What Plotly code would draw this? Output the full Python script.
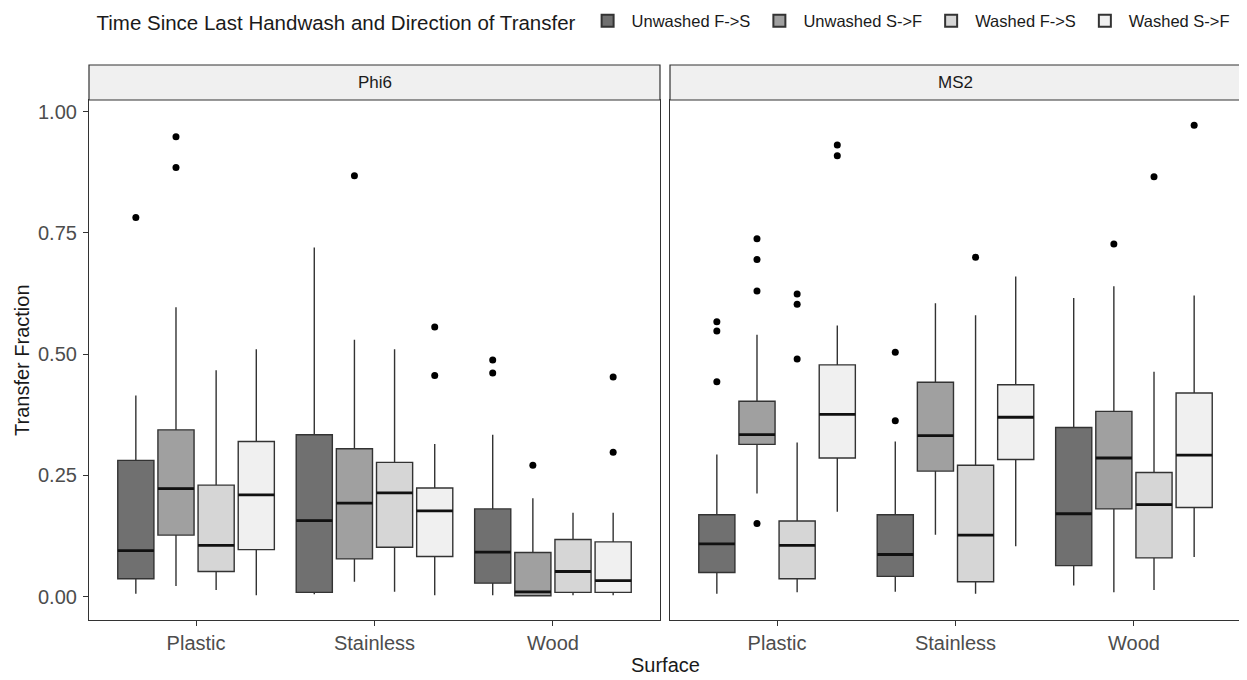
import plotly.graph_objects as go

# ---------------- data ----------------
viruses = ["Phi6", "MS2"]
surfaces = ["Plastic", "Stainless", "Wood"]
groups = ["Unwashed F->S", "Unwashed S->F", "Washed F->S", "Washed S->F"]
fills = ["#707070", "#A0A0A0", "#D6D6D6", "#F0F0F0"]

# rows = groups, columns = surfaces (Plastic, Stainless, Wood)
phi6_lower = [[0.006, 0.005, 0.003], [0.022, 0.031, 0.001], [0.014, 0.010, 0.003], [0.003, 0.003, 0.003]]
phi6_q1 = [[0.037, 0.009, 0.028], [0.127, 0.078, 0.002], [0.052, 0.102, 0.009], [0.097, 0.083, 0.009]]
phi6_median = [[0.095, 0.157, 0.092], [0.223, 0.193, 0.010], [0.106, 0.214, 0.052], [0.210, 0.177, 0.033]]
phi6_q3 = [[0.281, 0.334, 0.181], [0.344, 0.305, 0.091], [0.230, 0.277, 0.118], [0.320, 0.224, 0.113]]
phi6_upper = [[0.415, 0.720, 0.334], [0.597, 0.530, 0.203], [0.467, 0.510, 0.173], [0.510, 0.315, 0.173]]
phi6_outliers = [
    [[0.782], [], [0.488, 0.461]],
    [[0.948, 0.885], [0.868], [0.271]],
    [[], [], []],
    [[], [0.556, 0.456], [0.453, 0.298]],
]

ms2_lower = [[0.006, 0.010, 0.023], [0.213, 0.128, 0.009], [0.009, 0.006, 0.014], [0.175, 0.104, 0.082]]
ms2_q1 = [[0.050, 0.042, 0.064], [0.314, 0.259, 0.181], [0.037, 0.031, 0.080], [0.286, 0.283, 0.184]]
ms2_median = [[0.109, 0.087, 0.171], [0.334, 0.332, 0.286], [0.106, 0.127, 0.190], [0.376, 0.370, 0.292]]
ms2_q3 = [[0.169, 0.169, 0.349], [0.403, 0.442, 0.382], [0.156, 0.271, 0.256], [0.478, 0.437, 0.420]]
ms2_upper = [[0.293, 0.320, 0.616], [0.540, 0.605, 0.640], [0.318, 0.580, 0.464], [0.559, 0.660, 0.621]]
ms2_outliers = [
    [[0.567, 0.548, 0.443], [0.504, 0.363], []],
    [[0.738, 0.695, 0.630, 0.151], [], [0.727]],
    [[0.624, 0.603, 0.490], [0.700], [0.866]],
    [[0.931, 0.909], [], [0.972]],
]

y_ticks = [0, 0.25, 0.5, 0.75, 1.0]
y_ticktext = ["0.00", "0.25", "0.50", "0.75", "1.00"]

# ---------------- figure ----------------
stats = {
    "Phi6": (phi6_lower, phi6_q1, phi6_median, phi6_q3, phi6_upper, phi6_outliers),
    "MS2": (ms2_lower, ms2_q1, ms2_median, ms2_q3, ms2_upper, ms2_outliers),
}

dodge = 0.9 / len(groups)
box_w = dodge * 0.9
LINE = "#333333"
FONT = "Liberation Sans, Arial, sans-serif"

fig = go.Figure()
for vi, virus in enumerate(viruses):
    lower, q1, med, q3, upper, outl = stats[virus]
    xa = "x" if vi == 0 else "x2"
    ya = "y" if vi == 0 else "y2"
    for gi, grp in enumerate(groups):
        off = (gi - (len(groups) - 1) / 2) * dodge
        xs = [si + 1 + off for si in range(len(surfaces))]
        fig.add_trace(go.Box(
            x=xs, q1=q1[gi], median=med[gi], q3=q3[gi],
            lowerfence=lower[gi], upperfence=upper[gi],
            width=box_w, whiskerwidth=0, boxpoints=False,
            fillcolor=fills[gi], line=dict(color=LINE, width=1.4),
            name=grp, legendgroup=grp, showlegend=(vi == 0),
            xaxis=xa, yaxis=ya, hoverinfo="skip",
        ))
        # thick median lines
        mx, my = [], []
        for si, x in enumerate(xs):
            mx += [x - box_w / 2, x + box_w / 2, None]
            my += [med[gi][si], med[gi][si], None]
        fig.add_trace(go.Scatter(
            x=mx, y=my, mode="lines", line=dict(color="#111111", width=2.8),
            showlegend=False, xaxis=xa, yaxis=ya, hoverinfo="skip",
        ))
        # outliers
        ox, oy = [], []
        for si, x in enumerate(xs):
            for v in outl[gi][si]:
                ox.append(x)
                oy.append(v)
        if ox:
            fig.add_trace(go.Scatter(
                x=ox, y=oy, mode="markers",
                marker=dict(color="black", size=7),
                showlegend=False, xaxis=xa, yaxis=ya, hoverinfo="skip",
            ))

# the page body adds an 8px offset; size the figure to compensate
W, H = 1239, 672
ml, mr, mt, mb = 81, 6, 92, 60
pw = W - ml - mr
ph = H - mt - mb
gap = 10
d1 = (pw - gap) / 2 / pw
d2 = d1 + gap / pw

xaxis_common = dict(
    range=[0.4, 3.6], tickvals=[1, 2, 3], ticktext=surfaces,
    showline=True, mirror=True, linecolor=LINE, linewidth=1.2,
    ticks="outside", ticklen=5, tickcolor=LINE, tickwidth=1,
    showgrid=False, zeroline=False,
    tickfont=dict(family=FONT, size=20, color="#4D4D4D"),
)
fig.update_layout(
    width=W, height=H,
    margin=dict(l=ml, r=mr, t=mt, b=mb, autoexpand=False),
    plot_bgcolor="white", paper_bgcolor="white",
    boxmode="overlay",
    xaxis=dict(domain=[0, d1], **xaxis_common),
    xaxis2=dict(domain=[d2, 1], anchor="y2", **xaxis_common),
    yaxis=dict(
        range=[-0.048, 1.024], tickvals=y_ticks, ticktext=y_ticktext,
        showline=True, mirror=True, linecolor=LINE, linewidth=1.2,
        ticks="outside", ticklen=5, tickcolor=LINE,
        showgrid=False, zeroline=False, ticklabelstandoff=2,
        tickfont=dict(family=FONT, size=20, color="#4D4D4D"),
    ),
    yaxis2=dict(
        range=[-0.048, 1.024], anchor="x2", matches="y",
        showline=True, mirror=True, linecolor=LINE, linewidth=1.2,
        showticklabels=False, ticks="", showgrid=False, zeroline=False,
    ),
    legend=dict(
        orientation="h", x=0.5, xanchor="center", y=1 + (mt - 14) / ph, yanchor="middle",
        title=dict(text="Time Since Last Handwash and Direction of Transfer", side="left",
                   font=dict(family=FONT, size=20.5, color="#1A1A1A")),
        font=dict(family=FONT, size=16.5, color="#1A1A1A"),
        itemsizing="constant", traceorder="normal", itemwidth=38,
    ),
    showlegend=True,
)

strip_h = 35 / ph
for vi, virus in enumerate(viruses):
    xr = "x domain" if vi == 0 else "x2 domain"
    yr = "y domain" if vi == 0 else "y2 domain"
    fig.add_shape(type="rect", xref=xr, yref=yr, x0=0, x1=1, y0=1, y1=1 + strip_h,
                  fillcolor="#F0F0F0", line=dict(color=LINE, width=1.2), layer="above")
    fig.add_annotation(xref=xr, yref=yr, x=0.5, y=1 + strip_h / 2, text=virus,
                       showarrow=False, font=dict(family=FONT, size=17, color="#1A1A1A"),
                       xanchor="center", yanchor="middle")

fig.add_annotation(xref="paper", yref="paper", x=0.5, y=-(657 - (H - mb)) / ph,
                   text="Surface", showarrow=False, xanchor="center", yanchor="middle",
                   font=dict(family=FONT, size=20, color="#1A1A1A"))
fig.add_annotation(xref="paper", yref="paper", x=(14 - ml) / pw, y=0.5,
                   text="Transfer Fraction", showarrow=False, textangle=-90,
                   xanchor="center", yanchor="middle",
                   font=dict(family=FONT, size=20, color="#1A1A1A"))

fig.write_html("out.html")
